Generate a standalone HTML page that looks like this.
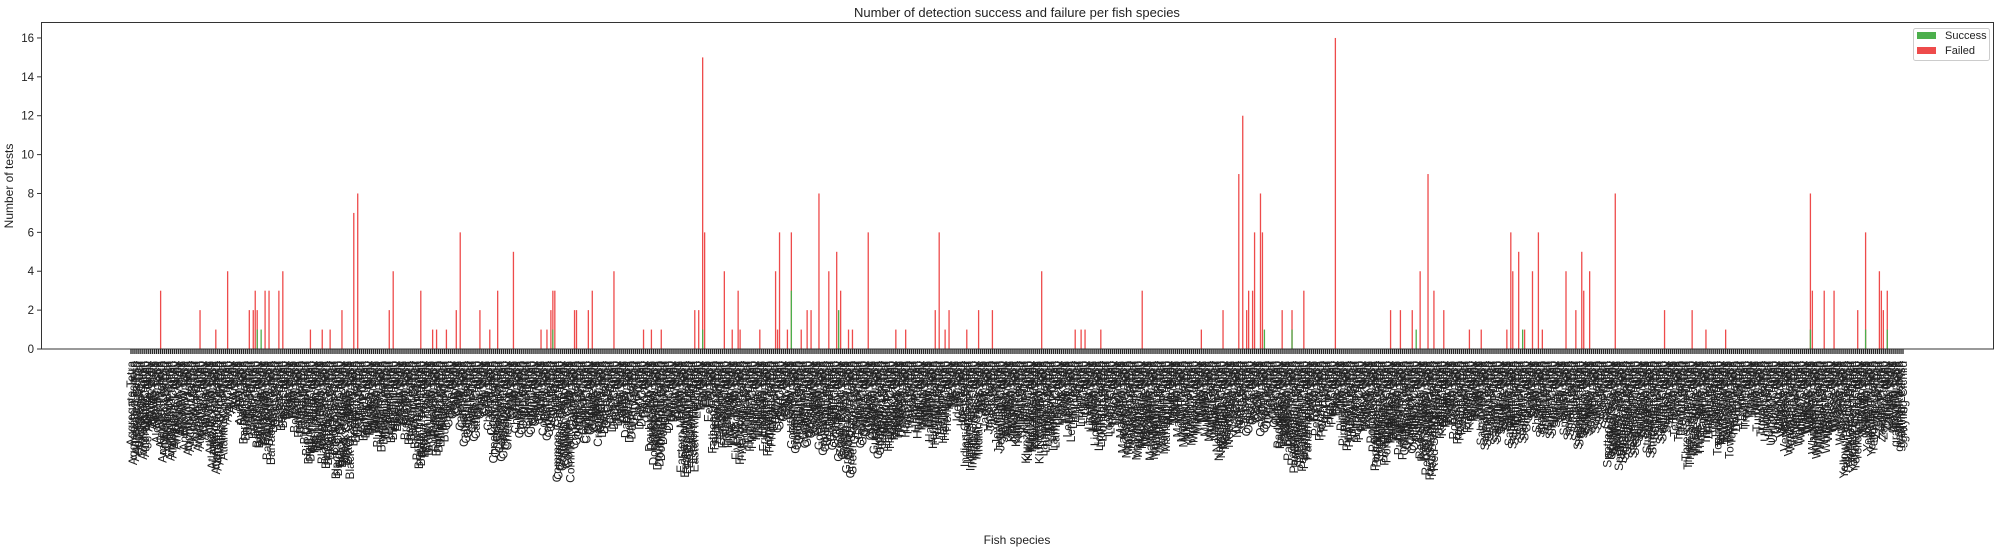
<!DOCTYPE html>
<html><head><meta charset="utf-8"><style>
body{margin:0;background:#fff;}
svg text{font-family:"Liberation Sans",sans-serif;fill:#222;}
</style></head><body>
<svg id="chart" width="2001" height="551" xmlns="http://www.w3.org/2000/svg">
<text x="1017" y="17" font-size="13" text-anchor="middle">Number of detection success and failure per fish species</text>
<g id="bars"></g>
<g id="xticks"></g>
<g id="yticks"></g>
<rect x="41.5" y="22.5" width="1952" height="326.5" fill="none" stroke="#333" stroke-width="1"/>
<text x="0" y="0" font-size="12" text-anchor="middle" transform="translate(13,186) rotate(-90)">Number of tests</text>
<text x="1017" y="544" font-size="12" text-anchor="middle">Fish species</text>
<g>
<rect x="1913.5" y="28.5" width="76" height="32" rx="2" fill="#fff" stroke="#ccc"/>
<rect x="1917" y="32" width="19" height="7" fill="#4caf4c"/>
<text x="1945" y="39" font-size="11">Success</text>
<rect x="1917" y="47" width="19" height="7" fill="#ee4b4b"/>
<text x="1945" y="54" font-size="11">Failed</text>
</g>
</svg>
<script>
const baseNames = ["Aggregate","Alewife","Amberjack","Anchovy","Arawana","Atlantic Cod","Ayu","Barbel","Barracuda","Bass","Betta","Big Longfin","Black Bass","Black Crappie","Blenny","Bluefish","Bluegill","Bream","Brown Trout","Bullhead","Carp","Catfish","Char","Cheekspot","Chub","Clarkii","Cobia","Common Carp","Copper","Crappie","Dace","Darter","Dory","Doublespot","Drum","Eastern Mud","Eel","Fathead","Five Tooth","Flounder","Fridmani","Goby","Goldfish","Goodeid","Gourami","Green Razor","Grouper","Gudgeon","Haddock","Hake","Halibut","Herring","Ide","Indian Glass","Jack","Jewelfish","Killifish","Klunzingeri","Lamprey","Lenok","Ling","Lionfish","Loach","Mackerel","Macquarie","Mandarin","Marlin","Minnow","Mullet","Needlefish","Nase","Oscar","Orfe","Paddlefish","Panamanian","Perch","Pike","Piranha","Pollock","Portuguese","Pufferfish","Quillback","Red Snapper","Redfin","Roach","Rudd","Salmon","Sardine","Sculpin","Shad","Shiner","Smelt","Snapper","Sole","Spotted Sea","Steelhead","Sturgeon","Sunfish","Tench","Three Spine","Tilapia","Townsend","Trout","Tuna","Unicorn","Vendace","Walleye","Whitefish","Wrasse","Yellow Perch","Yellowfin","Zander","grayling"];
const suffixNames = ["Tetra","Cichlid","Pupfish","Goby","Barb","Rasbora","Gar","Catfish","Sole","Wrasse","Leaffish","Danio","Molly","Platy"];
const N = 900;
// sparse data: [category index, count]
const failedEntries = [[15,3],[35,2],[43,1],[49,4],[60,2],[62,2],[63,3],[64,2],[68,3],[70,3],[75,3],[77,4],[91,1],[97,1],[101,1],[107,2],[113,7],[115,8],[131,2],[133,4],[147,3],[153,1],[155,1],[160,1],[165,2],[167,6],[177,2],[182,1],[186,3],[194,5],[208,1],[211,1],[213,2],[214,3],[215,3],[225,2],[226,2],[232,2],[234,3],[245,4],[260,1],[264,1],[269,1],[286,2],[288,2],[290,15],[291,6],[301,4],[305,1],[308,3],[309,1],[319,1],[327,4],[328,1],[329,6],[333,1],[335,6],[340,1],[343,2],[345,2],[349,8],[354,4],[358,5],[360,3],[364,1],[366,1],[374,6],[388,1],[393,1],[408,2],[410,6],[413,1],[415,2],[424,1],[430,2],[437,2],[462,4],[479,1],[482,1],[484,1],[492,1],[513,3],[543,1],[554,2],[562,9],[564,12],[566,2],[567,3],[569,3],[570,6],[573,8],[574,6],[584,2],[589,2],[595,3],[611,16],[639,2],[644,2],[650,2],[654,4],[658,9],[661,3],[666,2],[679,1],[685,1],[698,1],[700,6],[701,4],[704,5],[707,1],[711,4],[714,6],[716,1],[728,4],[733,2],[736,5],[737,3],[740,4],[753,8],[778,2],[792,2],[799,1],[809,1],[852,8],[853,3],[859,3],[864,3],[876,2],[880,6],[887,4],[888,3],[889,2],[891,3]];
const successEntries = [[64,1],[66,1],[214,1],[290,1],[335,3],[359,2],[575,1],[589,1],[652,1],[706,1],[852,1],[880,1],[891,1]];
const yTicks = [0,2,4,6,8,10,12,14,16];

const NS = "http://www.w3.org/2000/svg";
const x0 = 131, x1 = 1903, y0 = 349, yPer = 19.44;
function xs(i){ return x0 + i*(x1-x0)/(N-1); }
function ys(v){ return y0 - v*yPer; }
function mk(tag, attrs, parent){ const e=document.createElementNS(NS,tag); for(const k in attrs) e.setAttribute(k,attrs[k]); parent.appendChild(e); return e; }

const species = [];
for(let i=0;i<N;i++){
  const b = baseNames[Math.floor(i*baseNames.length/N)];
  species.push(b + " " + suffixNames[(i*5)%suffixNames.length]);
}

const bars = document.getElementById("bars");
failedEntries.forEach(([i,v])=>{
  const r = mk("rect",{x:(xs(i)-0.6).toFixed(2),y:ys(v).toFixed(2),width:1.3,height:(v*yPer).toFixed(2),fill:"#ee4b4b"},bars);
  
  
});
successEntries.forEach(([i,v])=>{
  const r = mk("rect",{x:(xs(i)-0.6).toFixed(2),y:ys(v).toFixed(2),width:1.3,height:(v*yPer).toFixed(2),fill:"#4caf4c"},bars);
  
  
});

const xt = document.getElementById("xticks");
for(let i=0;i<N;i++){
  const x = xs(i);
  const t = mk("line",{x1:x.toFixed(2),x2:x.toFixed(2),y1:349,y2:354,stroke:"#222","stroke-width":1.3},xt);
  
  
  const lb = mk("text",{transform:"translate("+(x+4).toFixed(2)+",361) rotate(-90)","font-size":12,"text-anchor":"end"},xt);
  lb.textContent = species[i];
  
  
}
const yt = document.getElementById("yticks");
yTicks.forEach(v=>{
  const y = ys(v);
  const l = mk("line",{x1:37,x2:41.5,y1:y,y2:y,stroke:"#333","stroke-width":1},yt);
  
  
  const t = mk("text",{x:34,y:y+4,"font-size":11.5,"text-anchor":"end"},yt);
  t.textContent = v;
  
  
});
</script>
</body></html>
